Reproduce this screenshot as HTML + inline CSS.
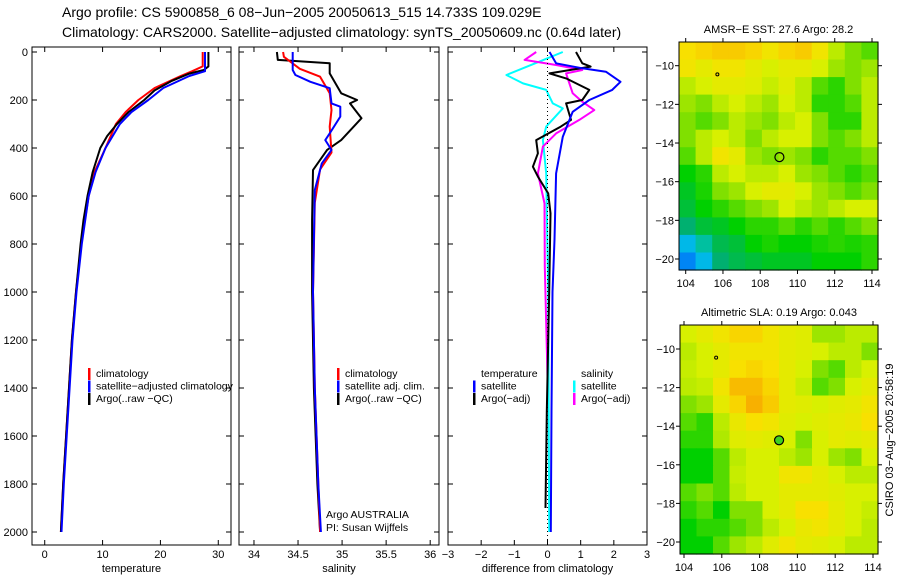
<!DOCTYPE html>
<html><head><meta charset="utf-8"><style>
body{margin:0;background:#fff;width:900px;height:580px;overflow:hidden}
svg{display:block;font-family:"Liberation Sans",sans-serif}
</style></head><body>
<svg id="s" width="900" height="580">
<text x="62" y="17" font-size="14">Argo profile: CS 5900858_6 08−Jun−2005 20050613_515 14.733S 109.029E</text>
<text x="62" y="37" font-size="14">Climatology: CARS2000. Satellite−adjusted climatology: synTS_20050609.nc (0.64d later)</text>
<text transform="translate(893,440) rotate(-90)" text-anchor="middle" font-size="11">CSIRO 03−Aug−2005 20:58:19</text>
</svg>
<script>
// ---------- data ----------
const tempArgo=[[0,28.3],[60,28.3],[75,27.5],[90,25],[120,22],[160,19],[200,17.2],[250,14.5],[300,12.5],[350,10.8],[400,9.6],[500,8.3],[600,7.4],[700,6.7],[800,6.2],[900,5.8],[1000,5.4],[1200,4.7],[1400,4.2],[1600,3.7],[1800,3.2],[2000,2.8]];
const tempClim=[[0,27.3],[60,27.3],[80,25.5],[100,23.5],[150,19],[200,16.2],[250,14],[300,12.3],[400,10.5],[500,8.6],[600,7.6],[800,6.3],[1000,5.4],[1200,4.7],[1400,4.2],[1600,3.7],[1800,3.2],[2000,2.8]];
const tempSat=[[0,27.7],[80,27.7],[100,25],[150,20.5],[200,17.9],[250,15],[300,13],[400,10.5],[500,8.8],[600,7.6],[800,6.4],[1000,5.5],[1200,4.8],[1400,4.3],[1600,3.8],[1800,3.3],[2000,2.9]];
const salArgo=[[0,34.26],[33,34.27],[47,34.86],[89,34.86],[172,34.99],[200,35.17],[214,35.09],[276,35.22],[367,34.99],[408,34.83],[492,34.67],[700,34.66],[1000,34.66],[1400,34.68],[1800,34.72],[2000,34.75]];
const salClim=[[0,34.33],[20,34.34],[70,34.52],[103,34.75],[172,34.86],[242,34.88],[311,34.86],[419,34.88],[489,34.75],[628,34.69],[1000,34.67],[1400,34.69],[1800,34.73],[2000,34.75]];
const salSat=[[0,34.44],[75,34.44],[96,34.47],[124,34.64],[151,34.86],[214,34.88],[228,34.98],[269,34.98],[339,34.86],[367,34.81],[408,34.88],[464,34.77],[575,34.69],[783,34.68],[1000,34.67],[1400,34.69],[1800,34.73],[2000,34.76]];
const dTempSat=[[0,0.06],[47,0.26],[68,1.05],[82,1.76],[124,2.2],[158,1.95],[200,1.26],[249,0.76],[353,0.46],[506,0.26],[783,0.21],[1000,0.15],[1500,0.12],[2000,0.1]];
const dTempArgo=[[0,0.86],[47,1.05],[61,1.3],[89,0.06],[110,0.56],[158,1.26],[200,1.05],[214,0.56],[283,0.71],[311,0.4],[367,-0.34],[422,-0.29],[478,-0.44],[519,-0.29],[589,0.02],[672,0.09],[1000,0.05],[1500,-0.02],[1900,-0.06]];
const dSalSat=[[0,0.46],[40,-0.24],[96,-1.24],[131,-0.74],[158,-0.04],[214,0.16],[235,0.46],[311,-0.04],[367,-0.14],[506,-0.04],[1000,0.02],[2000,0.05]];
const dSalArgo=[[0,-0.34],[33,-0.69],[54,0.26],[75,1.05],[89,0.56],[131,0.66],[172,0.76],[207,1.05],[242,1.41],[283,0.96],[339,0.26],[394,-0.14],[506,-0.29],[631,-0.09],[894,-0.08],[1350,0]];
const depthTicks=[0,200,400,600,800,1000,1200,1400,1600,1800,2000];
const tempTicks=[0,10,20,30], salTicks=[34,34.5,35,35.5,36], diffTicks=[-3,-2,-1,0,1,2,3];
const lonTicks=[104,106,108,110,112,114], latTicks=[-10,-12,-14,-16,-18,-20];
const sstGrid=[
[0.88,0.9,0.92,0.92,0.9,0.85,0.9,0.92,0.85,0.7,0.6,0.55],
[0.85,0.8,0.85,0.85,0.8,0.75,0.8,0.8,0.75,0.65,0.6,0.65],
[0.7,0.75,0.8,0.8,0.78,0.72,0.78,0.7,0.55,0.5,0.6,0.7],
[0.65,0.6,0.7,0.75,0.7,0.65,0.75,0.7,0.5,0.5,0.55,0.7],
[0.6,0.55,0.6,0.7,0.65,0.6,0.7,0.75,0.6,0.5,0.5,0.7],
[0.6,0.7,0.75,0.7,0.6,0.7,0.75,0.75,0.6,0.55,0.6,0.7],
[0.55,0.7,0.85,0.8,0.65,0.6,0.65,0.6,0.5,0.55,0.55,0.6],
[0.45,0.5,0.7,0.75,0.7,0.7,0.75,0.65,0.6,0.55,0.5,0.55],
[0.42,0.48,0.6,0.65,0.75,0.8,0.8,0.75,0.65,0.6,0.55,0.6],
[0.4,0.45,0.5,0.55,0.6,0.65,0.75,0.7,0.65,0.7,0.75,0.75],
[0.35,0.4,0.42,0.45,0.5,0.5,0.55,0.5,0.55,0.5,0.55,0.6],
[0.2,0.3,0.38,0.4,0.45,0.48,0.45,0.45,0.48,0.5,0.48,0.5],
[0.1,0.2,0.35,0.38,0.4,0.42,0.42,0.42,0.45,0.45,0.45,0.5]];
const slaGrid=[
[0.75,0.8,0.85,0.9,0.9,0.85,0.8,0.78,0.65,0.65,0.7,0.7],
[0.7,0.75,0.8,0.85,0.85,0.85,0.8,0.78,0.75,0.7,0.7,0.6],
[0.72,0.75,0.8,0.88,0.9,0.88,0.8,0.75,0.6,0.55,0.7,0.75],
[0.7,0.72,0.85,0.95,0.95,0.9,0.8,0.72,0.55,0.6,0.75,0.8],
[0.6,0.65,0.8,0.9,0.97,0.92,0.8,0.78,0.75,0.78,0.8,0.85],
[0.55,0.5,0.7,0.82,0.88,0.85,0.78,0.75,0.78,0.8,0.82,0.88],
[0.5,0.5,0.68,0.78,0.8,0.78,0.75,0.6,0.75,0.8,0.78,0.8],
[0.45,0.45,0.55,0.7,0.75,0.75,0.7,0.65,0.75,0.65,0.6,0.75],
[0.45,0.45,0.55,0.72,0.75,0.75,0.85,0.85,0.8,0.75,0.7,0.7],
[0.55,0.6,0.55,0.7,0.75,0.75,0.8,0.8,0.8,0.78,0.75,0.75],
[0.5,0.55,0.45,0.6,0.6,0.75,0.8,0.88,0.88,0.8,0.75,0.72],
[0.45,0.5,0.5,0.55,0.6,0.7,0.75,0.82,0.85,0.8,0.75,0.7],
[0.45,0.45,0.55,0.65,0.7,0.78,0.85,0.8,0.78,0.75,0.7,0.7]];
const floatPos=[109.03,-14.73];

// ---------- helpers ----------
const S=document.getElementById('s'),NS='http://www.w3.org/2000/svg';
function el(t,a,p){const e=document.createElementNS(NS,t);for(const k in a)e.setAttribute(k,a[k]);(p||S).appendChild(e);return e;}
function txt(x,y,s,anchor,size,p){const e=el('text',{x:x,y:y,'font-size':size||11,'text-anchor':anchor||'start'},p);e.textContent=s;return e;}
const TOPY=47,BOTY=545,yD=d=>52+d*0.24;

function panel(name,L,R,xmin,xmax,ticks,label,series,showY){
  const g=el('g',{});
  
  
  const xs=v=>L+(v-xmin)/(xmax-xmin)*(R-L);
  const fr=el('rect',{x:L,y:TOPY,width:R-L,height:BOTY-TOPY,fill:'#fff',stroke:'#000','stroke-width':1},g);
  
  
  ticks.forEach(t=>{const x=xs(t);
    el('line',{x1:x,x2:x,y1:BOTY,y2:BOTY-5,stroke:'#000'},g);el('line',{x1:x,x2:x,y1:TOPY,y2:TOPY+5,stroke:'#000'},g);
    const tl=txt(x,558,String(t).replace('-','−'),'middle',11,g);
    
    });
  depthTicks.forEach(d=>{const y=yD(d);
    el('line',{x1:L,x2:L+5,y1:y,y2:y,stroke:'#000'},g);el('line',{x1:R,x2:R-5,y1:y,y2:y,stroke:'#000'},g);
    if(showY){const tl=txt(L-4,y+4,String(d),'end',11,g);
      
      }});
  const xl=txt((L+R)/2,572,label,'middle',11,g);
  
  
  series.forEach(s=>{
    const pl=el('polyline',{points:s.d.map(p=>xs(p[1]).toFixed(1)+','+yD(p[0]).toFixed(1)).join(' '),fill:'none',stroke:s.c,'stroke-width':2,'stroke-linejoin':'round'},g);
    
    });
  return {g:g,xs:xs};
}
const p1=panel('temperature-panel',32,231,-2.2,32.2,tempTicks,'temperature',[
 {d:tempClim,c:'#f00',n:'climatology-temp-line'},{d:tempArgo,c:'#000',n:'argo-temp-line'},{d:tempSat,c:'#00f',n:'satellite-temp-line'}],true);
const p2=panel('salinity-panel',239,439,33.83,36.1,salTicks,'salinity',[
 {d:salArgo,c:'#000',n:'argo-salinity-line'},{d:salClim,c:'#f00',n:'climatology-salinity-line'},{d:salSat,c:'#00f',n:'satellite-salinity-line'}],false);
const p3=panel('difference-panel',448,647,-3,3,diffTicks,'difference from climatology',[
 {d:dSalSat,c:'#0ff',n:'salinity-satellite-diff-line'},{d:dSalArgo,c:'#f0f',n:'salinity-argo-diff-line'},{d:dTempArgo,c:'#000',n:'temperature-argo-diff-line'},{d:dTempSat,c:'#00f',n:'temperature-satellite-diff-line'}],false);
el('line',{x1:p3.xs(0),x2:p3.xs(0),y1:TOPY,y2:BOTY,stroke:'#000','stroke-dasharray':'1,3'},p3.g);

function legend(g,x,rows){rows.forEach((r,i)=>{const y=377+i*12.5;
  if(r.c){const b=el('rect',{x:x,y:y-9,width:2.5,height:12,fill:r.c},g);
    
    }
  const t=txt(x+8,y,r.t,'start',10.5,g);
  
  });}
legend(p1.g,88,[{c:'#f00',t:'climatology'},{c:'#00f',t:'satellite−adjusted climatology'},{c:'#000',t:'Argo(..raw −QC)'}]);
legend(p2.g,337,[{c:'#f00',t:'climatology'},{c:'#00f',t:'satellite adj. clim.'},{c:'#000',t:'Argo(..raw −QC)'}]);
legend(p3.g,473,[{c:null,t:'temperature'},{c:'#00f',t:'satellite'},{c:'#000',t:'Argo(−adj)'}]);
legend(p3.g,573,[{c:null,t:'salinity'},{c:'#0ff',t:'satellite'},{c:'#f0f',t:'Argo(−adj)'}]);
const a1=txt(326,518,'Argo AUSTRALIA','start',10.5,p2.g);


const a2=txt(326,531,'PI: Susan Wijffels','start',10.5,p2.g);



// ---------- maps ----------
const stops=[[0,[0,80,224]],[0.15,[0,160,255]],[0.25,[0,208,208]],[0.35,[0,176,112]],[0.45,[0,208,0]],[0.6,[128,224,0]],[0.75,[216,240,0]],[0.88,[248,224,0]],[1,[248,160,0]]];
function cmap(v){for(let i=1;i<stops.length;i++){if(v<=stops[i][0]){const a=stops[i-1],b=stops[i],t=(v-a[0])/(b[0]-a[0]);
  return 'rgb('+a[1].map((c,k)=>Math.round(c+(b[1][k]-c)*t)).join(',')+')';}}return 'rgb(248,160,0)';}
function map(name,title,grid,L,R,T,B,lon0x,lon14x,lat10y,lat20y,filled){
  const g=el('g',{});
  
  
  const lx=v=>lon0x+(v-104)/10*(lon14x-lon0x), ly=v=>lat10y+(-10-v)/10*(lat20y-lat10y);
  const lonMin=104-(lon0x-L)/(lon14x-lon0x)*10, lonMax=104+(R-lon0x)/(lon14x-lon0x)*10;
  const latTop=-10+(lat10y-T)/(lat20y-lat10y)*10, latBot=-10-(B-lat10y)/(lat20y-lat10y)*10;
  const nr=grid.length,nc=grid[0].length,dLon=(lonMax-lonMin)/nc,dLat=(latTop-latBot)/nr;
  grid.forEach((row,r)=>row.forEach((v,c)=>{
    const x0=lx(lonMin+c*dLon),x1=lx(lonMin+(c+1)*dLon),y0=ly(latTop-r*dLat),y1=ly(latTop-(r+1)*dLat);
    const cell=el('rect',{x:x0.toFixed(1),y:y0.toFixed(1),width:(x1-x0+0.6).toFixed(1),height:(y1-y0+0.6).toFixed(1),fill:cmap(v)},g);
    
    }));
  const fr=el('rect',{x:L,y:T,width:R-L,height:B-T,fill:'none',stroke:'#000'},g);
  
  
  lonTicks.forEach(t=>{const x=lx(t);el('line',{x1:x,x2:x,y1:B,y2:B+4,stroke:'#000'},g);el('line',{x1:x,x2:x,y1:T,y2:T-4,stroke:'#000'},g);
    const tl=txt(x,B+17,String(t),'middle',11,g);
    
    });
  latTicks.forEach(t=>{const y=ly(t);el('line',{x1:L,x2:L-4,y1:y,y2:y,stroke:'#000'},g);el('line',{x1:R,x2:R+4,y1:y,y2:y,stroke:'#000'},g);
    const tl=txt(L-5,y+4,String(t).replace('-','−'),'end',11,g);
    
    });
  const tt=txt((L+R)/2,T-9,title,'middle',11,g);
  
  
  const isl=el('circle',{cx:lx(105.7),cy:ly(-10.45),r:1.5,fill:'none',stroke:'#000'},g);
  
  
  const m=el('circle',{cx:lx(floatPos[0]),cy:ly(floatPos[1]),r:4.5,fill:filled?'#40d020':'none',stroke:'#000','stroke-width':1.2},g);
  
  
}
map('sst-map','AMSR−E SST: 27.6 Argo: 28.2',sstGrid,679,878,42,270,685.7,872,65.7,259,false);
map('sla-map','Altimetric SLA: 0.19 Argo: 0.043',slaGrid,680,878,325,554,684,873,349,542,true);
</script>
</body></html>
